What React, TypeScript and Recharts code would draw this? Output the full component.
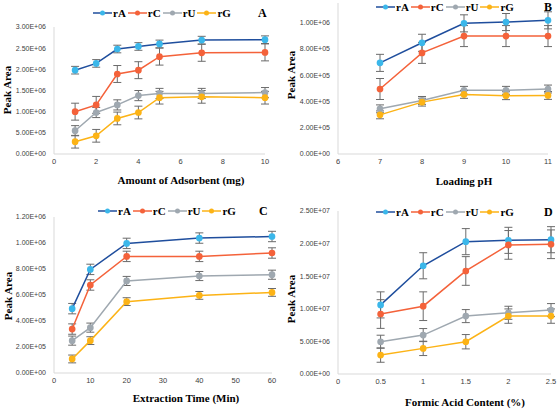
import React from 'react';
import { LineChart, Line, XAxis, YAxis, ErrorBar } from 'recharts';

const SERIES = ['rA', 'rC', 'rU', 'rG'];
const LINE_COLORS = ['#1f4e9d', '#f4623a', '#9fa8b0', '#fcb316'];
const DOT_COLORS = ['#3bb7ea', '#f4623a', '#9fa8b0', '#fcb316'];

// A: amount of adsorbent
const adsorbentMg = [1, 2, 3, 4, 5, 7, 10];
const adsRA = [1.98e6, 2.14e6, 2.48e6, 2.54e6, 2.6e6, 2.69e6, 2.7e6];
const adsRC = [1.0e6, 1.16e6, 1.89e6, 1.98e6, 2.3e6, 2.39e6, 2.4e6];
const adsRU = [0.55e6, 0.98e6, 1.16e6, 1.38e6, 1.43e6, 1.43e6, 1.45e6];
const adsRG = [0.29e6, 0.43e6, 0.84e6, 0.98e6, 1.33e6, 1.35e6, 1.33e6];
const adsErr = [0.09e6, 0.2e6, 0.12e6, 0.15e6];

// B: loading pH
const loadingPH = [7, 8, 9, 10, 11];
const phRA = [0.694e6, 0.847e6, 0.995e6, 1.005e6, 1.018e6];
const phRC = [0.495e6, 0.77e6, 0.898e6, 0.898e6, 0.898e6];
const phRU = [0.344e6, 0.408e6, 0.485e6, 0.485e6, 0.495e6];
const phRG = [0.298e6, 0.395e6, 0.454e6, 0.444e6, 0.446e6];
const phErr = [0.065e6, 0.08e6, 0.03e6, 0.03e6];

// C: extraction time
const extractionMin = [5, 10, 20, 40, 60];
const timeRA = [0.495e6, 0.797e6, 0.997e6, 1.038e6, 1.05e6];
const timeRC = [0.338e6, 0.677e6, 0.897e6, 0.897e6, 0.923e6];
const timeRU = [0.249e6, 0.349e6, 0.708e6, 0.746e6, 0.756e6];
const timeRG = [0.108e6, 0.249e6, 0.549e6, 0.597e6, 0.62e6];
const timeErr = [0.04e6, 0.04e6, 0.035e6, 0.03e6];

// D: formic acid content
const formicPct = [0.5, 1, 1.5, 2, 2.5];
const acidRA = [10.6e6, 16.6e6, 20.3e6, 20.5e6, 20.6e6];
const acidRC = [9.2e6, 10.4e6, 15.8e6, 19.8e6, 19.9e6];
const acidRU = [4.95e6, 5.97e6, 8.88e6, 9.39e6, 9.8e6];
const acidRG = [2.9e6, 3.93e6, 4.95e6, 8.88e6, 8.88e6];
const acidErr = [2.0e6, 2.2e6, 1.0e6, 1.1e6];

const buildRows = (xs: number[], vals: number[][], errs: number[]) =>
  xs.map((x, i) => {
    const row: Record<string, number> = { x };
    SERIES.forEach((s, k) => {
      row[s] = vals[k][i];
      row[s + 'Err'] = errs[k];
    });
    return row;
  });

const sci = (v: number) => {
  const [m, e] = v.toExponential(2).split('e');
  const sign = e[0];
  const digits = e.slice(1).padStart(2, '0');
  return `${m}E${sign}${digits}`;
};

const serif = '"Liberation Serif", "Times New Roman", serif';
const sans = '"Liberation Sans", Arial, sans-serif';

const LegendRow = ({ left, top }: { left: number; top: number }) => (
  <div style={{ position: 'absolute', left, top, display: 'flex', alignItems: 'center' }}>
    {SERIES.map((s, k) => (
      <div key={s} style={{ display: 'flex', alignItems: 'center' }}>
        <svg width={19} height={8}>
          <line x1={0} y1={4} x2={19} y2={4} stroke={LINE_COLORS[k]} strokeWidth={1.5} />
          <circle cx={9.5} cy={4} r={2.5} fill={DOT_COLORS[k]} />
        </svg>
        <span style={{ fontFamily: serif, fontWeight: 'bold', fontSize: 11, marginLeft: 1, marginRight: 2, lineHeight: '12px' }}>
          {s}
        </span>
      </div>
    ))}
  </div>
);

interface PanelProps {
  left: number;
  top: number;
  rows: Record<string, number>[];
  xDomain: [number, number];
  xTicks: number[];
  yDomain: [number, number];
  yTicks: number[];
  plotLeft: number;
  plotRight: number;
  plotTop: number;
  plotBottom: number;
  xLabel: string;
  xLabelX: number;
  xLabelY: number;
  yLabelX: number;
  yLabelY: number;
  title: string;
  titleX: number;
  legendLeft: number;
  legendTop: number;
}

const Panel = (p: PanelProps) => {
  const W = 279;
  const H = 204;
  const axisH = 20;
  return (
    <div style={{ position: 'absolute', left: p.left, top: p.top, width: W, height: H }}>
      <LineChart
        width={W}
        height={H}
        data={p.rows}
        margin={{ top: p.plotTop, right: W - p.plotRight, bottom: H - p.plotBottom - axisH, left: 0 }}
      >
        <XAxis
          type="number"
          dataKey="x"
          domain={p.xDomain}
          ticks={p.xTicks}
          height={axisH}
          tickLine={false}
          tickSize={3}
          axisLine={{ stroke: '#d9d9d9' }}
          tick={{ fontFamily: sans, fontSize: 7.5, fill: '#404040' }}
          interval={0}
        />
        <YAxis
          type="number"
          domain={p.yDomain}
          ticks={p.yTicks}
          width={p.plotLeft}
          tickLine={false}
          tickFormatter={sci}
          axisLine={{ stroke: '#d9d9d9' }}
          tick={{ fontFamily: sans, fontSize: 7, fill: '#404040' }}
          interval={0}
          allowDataOverflow
        />
        {SERIES.map((s, k) => (
          <Line
            key={s}
            dataKey={s}
            stroke={LINE_COLORS[k]}
            strokeWidth={1.5}
            dot={{ r: 2.6, fill: DOT_COLORS[k], stroke: DOT_COLORS[k] }}
            isAnimationActive={false}
          >
            <ErrorBar dataKey={s + 'Err'} direction="y" width={4} stroke="#6b6b6b" strokeWidth={1} />
          </Line>
        ))}
      </LineChart>
      <LegendRow left={p.legendLeft} top={p.legendTop} />
      <div style={{ position: 'absolute', left: p.titleX, top: p.legendTop - 1, fontFamily: serif, fontWeight: 'bold', fontSize: 12 }}>
        {p.title}
      </div>
      <div
        style={{
          position: 'absolute',
          left: p.xLabelX,
          top: p.xLabelY,
          transform: 'translate(-50%, -50%)',
          whiteSpace: 'nowrap',
          fontFamily: serif,
          fontWeight: 'bold',
          fontSize: 11,
        }}
      >
        {p.xLabel}
      </div>
      <div
        style={{
          position: 'absolute',
          left: p.yLabelX,
          top: p.yLabelY,
          transform: 'translate(-50%, -50%) rotate(-90deg)',
          whiteSpace: 'nowrap',
          fontFamily: serif,
          fontWeight: 'bold',
          fontSize: 11,
        }}
      >
        Peak Area
      </div>
    </div>
  );
};

export default function App() {
  return (
    <div style={{ position: 'fixed', left: 0, top: 0, width: 559, height: 409, background: '#fff', overflow: 'hidden' }}>
      <Panel
        left={0}
        top={0}
        rows={buildRows(adsorbentMg, [adsRA, adsRC, adsRU, adsRG], adsErr)}
        xDomain={[0, 10]}
        xTicks={[0, 2, 4, 6, 8, 10]}
        yDomain={[0, 3e6]}
        yTicks={[0, 5e5, 1e6, 1.5e6, 2e6, 2.5e6, 3e6]}
        plotLeft={54}
        plotRight={265}
        plotTop={27}
        plotBottom={154}
        xLabel="Amount  of Adsorbent  (mg)"
        xLabelX={181}
        xLabelY={180}
        yLabelX={7}
        yLabelY={90}
        title="A"
        titleX={258}
        legendLeft={93}
        legendTop={7}
      />
      <Panel
        left={279}
        top={0}
        rows={buildRows(loadingPH, [phRA, phRC, phRU, phRG], phErr)}
        xDomain={[6, 11]}
        xTicks={[6, 7, 8, 9, 10, 11]}
        yDomain={[0, 1.15e6]}
        yTicks={[0, 2e5, 4e5, 6e5, 8e5, 1e6]}
        plotLeft={59}
        plotRight={269}
        plotTop={3}
        plotBottom={154}
        xLabel="Loading pH"
        xLabelX={185}
        xLabelY={181}
        yLabelX={12}
        yLabelY={75}
        title="B"
        titleX={265}
        legendLeft={97}
        legendTop={1}
      />
      <Panel
        left={0}
        top={204}
        rows={buildRows(extractionMin, [timeRA, timeRC, timeRU, timeRG], timeErr)}
        xDomain={[0, 60]}
        xTicks={[0, 10, 20, 30, 40, 50, 60]}
        yDomain={[0, 1.2e6]}
        yTicks={[0, 2e5, 4e5, 6e5, 8e5, 1e6, 1.2e6]}
        plotLeft={54}
        plotRight={272}
        plotTop={13}
        plotBottom={169}
        xLabel="Extraction Time (Min)"
        xLabelX={186}
        xLabelY={194}
        yLabelX={8}
        yLabelY={92}
        title="C"
        titleX={259}
        legendLeft={98}
        legendTop={1}
      />
      <Panel
        left={279}
        top={204}
        rows={buildRows(formicPct, [acidRA, acidRC, acidRU, acidRG], acidErr)}
        xDomain={[0, 2.5]}
        xTicks={[0, 0.5, 1, 1.5, 2, 2.5]}
        yDomain={[0, 2.5e7]}
        yTicks={[0, 5e6, 1e7, 1.5e7, 2e7, 2.5e7]}
        plotLeft={59}
        plotRight={272}
        plotTop={7}
        plotBottom={170}
        xLabel="Formic  Acid  Content (%)"
        xLabelX={186}
        xLabelY={198}
        yLabelX={12}
        yLabelY={95}
        title="D"
        titleX={265}
        legendLeft={97}
        legendTop={2}
      />
    </div>
  );
}
